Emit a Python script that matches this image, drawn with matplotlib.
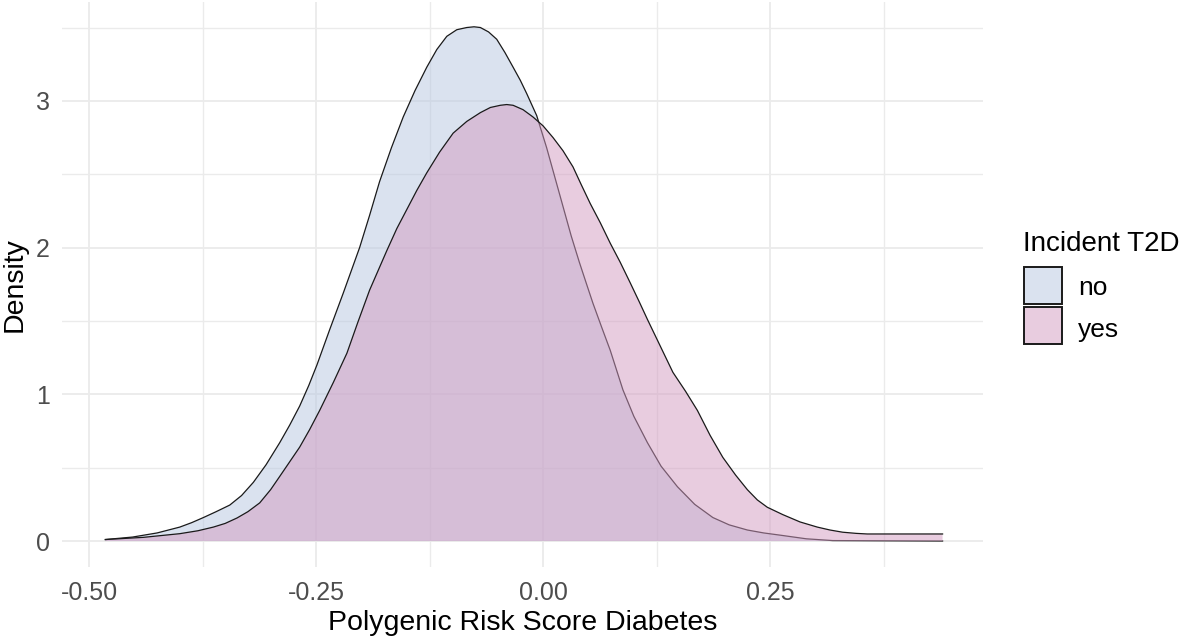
import matplotlib.pyplot as plt
from matplotlib.patches import Rectangle
from matplotlib.colors import to_rgba
from matplotlib.ticker import MultipleLocator, FormatStrFormatter

plt.rcParams['font.family'] = ['Liberation Sans', 'DejaVu Sans']
plt.rcParams['axes.unicode_minus'] = False

# density estimates of the polygenic risk score, per incident T2D group
prs_no = [-0.482, -0.452, -0.425, -0.400, -0.387, -0.374, -0.360, -0.345, -0.332,
          -0.319, -0.305, -0.290, -0.279, -0.268, -0.258, -0.249, -0.235, -0.220,
          -0.202, -0.191, -0.180, -0.167, -0.154, -0.141, -0.128, -0.117, -0.106,
          -0.095, -0.084, -0.076, -0.069, -0.060, -0.051, -0.042, -0.033, -0.025,
          -0.018, -0.007, 0.004, 0.013, 0.022, 0.031, 0.040, 0.048, 0.055, 0.065,
          0.074, 0.088, 0.100, 0.115, 0.130, 0.148, 0.167, 0.187, 0.205, 0.225,
          0.243, 0.261, 0.290, 0.319, 0.440]
density_no = [0.01, 0.027, 0.055, 0.095, 0.125, 0.16, 0.20, 0.245, 0.31,
              0.40, 0.52, 0.67, 0.79, 0.92, 1.06, 1.20, 1.44, 1.69,
              2.00, 2.22, 2.45, 2.68, 2.89, 3.07, 3.23, 3.35, 3.44,
              3.485, 3.50, 3.505, 3.50, 3.47, 3.42, 3.33, 3.23, 3.14,
              3.05, 2.90, 2.68, 2.48, 2.28, 2.08, 1.90, 1.75, 1.62, 1.45,
              1.30, 1.03, 0.85, 0.67, 0.51, 0.37, 0.25, 0.16, 0.11, 0.075,
              0.055, 0.04, 0.015, 0.003, 0.0]

prs_yes = [-0.482, -0.440, -0.400, -0.380, -0.363, -0.350, -0.337, -0.325, -0.312,
           -0.300, -0.290, -0.279, -0.268, -0.257, -0.246, -0.231, -0.216, -0.204,
           -0.191, -0.172, -0.161, -0.150, -0.139, -0.128, -0.114, -0.099, -0.084,
           -0.069, -0.058, -0.047, -0.040, -0.033, -0.022, -0.011, 0.000, 0.011,
           0.022, 0.033, 0.042, 0.052, 0.063, 0.074, 0.085, 0.096, 0.106, 0.115,
           0.129, 0.143, 0.157, 0.170, 0.184, 0.198, 0.212, 0.225, 0.236, 0.247,
           0.264, 0.283, 0.302, 0.316, 0.330, 0.345, 0.357, 0.440]
density_yes = [0.01, 0.025, 0.05, 0.07, 0.095, 0.12, 0.157, 0.20, 0.26,
               0.35, 0.44, 0.54, 0.64, 0.76, 0.89, 1.08, 1.28, 1.49,
               1.71, 1.98, 2.13, 2.26, 2.39, 2.51, 2.65, 2.78, 2.86,
               2.92, 2.955, 2.97, 2.975, 2.97, 2.94, 2.89, 2.83, 2.75,
               2.66, 2.55, 2.43, 2.30, 2.17, 2.03, 1.90, 1.76, 1.63, 1.51,
               1.33, 1.15, 1.02, 0.89, 0.72, 0.57, 0.45, 0.35, 0.28, 0.23,
               0.18, 0.13, 0.095, 0.075, 0.06, 0.052, 0.048, 0.048]

groups = ['no', 'yes']
fills = {'no': '#b7c7e1', 'yes': '#d39bc1'}
alpha = 0.5
edge = '#1a1a1a'

fig = plt.figure(figsize=(11.84, 6.44), dpi=100)
ax = fig.add_axes([0.0524, 0.1196, 0.7779, 0.8773])

series = {'no': (prs_no, density_no), 'yes': (prs_yes, density_yes)}
for i, g in enumerate(groups):
    x, d = series[g]
    ax.fill_between(x, 0, d, facecolor=fills[g], alpha=alpha, linewidth=0, zorder=2 + i)
    ax.plot(x, d, color=edge, lw=0.9, zorder=2.5 + i)

ax.set_xlim(-0.5297, 0.4846)
ax.set_ylim(-0.177, 3.674)

ax.xaxis.set_major_locator(MultipleLocator(0.25))
ax.xaxis.set_minor_locator(MultipleLocator(0.125))
ax.xaxis.set_major_formatter(FormatStrFormatter('%.2f'))
ax.yaxis.set_major_locator(MultipleLocator(1))
ax.yaxis.set_minor_locator(MultipleLocator(0.5))

ax.grid(which='major', color='#ebebeb', lw=1.3)
ax.grid(which='minor', color='#ebebeb', lw=1.0)
ax.set_axisbelow(True)
for s in ax.spines.values():
    s.set_visible(False)
ax.tick_params(which='both', length=0)
ax.tick_params(axis='x', labelsize=18, labelcolor='#4d4d4d', pad=10)
ax.tick_params(axis='y', labelsize=18, labelcolor='#4d4d4d', pad=9)

ax.set_xlabel('Polygenic Risk Score Diabetes', fontsize=20.5, labelpad=4)
ax.set_ylabel('Density', fontsize=20.5, labelpad=6)

# legend drawn by hand in figure coordinates
W, H = 1184, 644
fig.text(1023 / W, 1 - 251 / H, 'Incident T2D', fontsize=20, va='baseline', ha='left')
key_tops = [267, 307]
baselines = [295, 337]
for g, top, base in zip(groups, key_tops, baselines):
    fig.add_artist(Rectangle((1024 / W, 1 - (top + 37) / H), 38 / W, 37 / H,
                             transform=fig.transFigure, facecolor=to_rgba(fills[g], alpha),
                             edgecolor=edge, lw=1.4))
    fig.text(1078 / W, 1 - base / H, g, fontsize=19, va='baseline', ha='left')

fig.savefig('out.png', dpi=100)
